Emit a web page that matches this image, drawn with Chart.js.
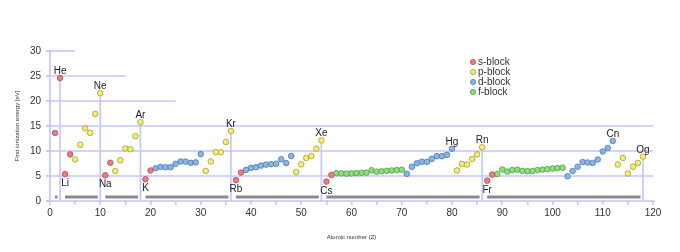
<!DOCTYPE html>
<html><head><meta charset="utf-8">
<script src="https://cdn.jsdelivr.net/npm/chart.js@4/dist/chart.umd.min.js"></script>
<style>html,body{margin:0;padding:0;background:#fff}canvas{display:block}</style>
</head><body>
<canvas id="c" width="680" height="252"></canvas>
<script>
// First ionization energy (eV) for Z = 1..118
const ionizationEnergy = [
  13.60,24.59,5.39,9.32,8.30,11.26,14.53,13.62,17.42,21.56,
  5.14,7.65,5.99,8.15,10.49,10.36,12.97,15.76,
  4.34,6.11,6.56,6.83,6.75,6.77,7.43,7.90,7.88,7.64,7.73,9.39,6.00,7.90,9.79,9.75,11.81,14.00,
  4.18,5.69,6.22,6.63,6.76,7.09,7.28,7.36,7.46,8.34,7.58,8.99,5.79,7.34,8.61,9.01,10.45,12.13,
  3.89,5.21,5.58,5.54,5.47,5.53,5.58,5.64,5.67,6.15,5.86,5.94,6.02,6.11,6.18,6.25,
  5.43,6.83,7.55,7.86,7.83,8.44,8.97,8.96,9.23,10.44,6.11,7.42,7.29,8.41,9.32,10.75,
  4.07,5.28,5.38,6.31,5.89,6.19,6.27,6.03,5.97,5.99,6.20,6.28,6.37,6.50,6.58,6.66,
  4.96,6.00,6.85,7.80,7.70,7.60,8.30,9.90,10.60,12.00,7.30,8.60,5.50,6.85,7.60,8.90
];
// block letter for each element Z = 1..118
const blockLetters = ("ss"+"ss"+"pppppp"+"ss"+"pppppp"+"ss"+"dddddddddd"+"pppppp"+"ss"+"dddddddddd"+"pppppp"+
  "ss"+"ffffffffffffff"+"dddddddddd"+"pppppp"+"ss"+"ffffffffffffff"+"dddddddddd"+"pppppp").split("");
const blockNames = ["s","p","d","f"];
const blockLabels = ["s-block","p-block","d-block","f-block"];
const blockFill = ["#f27a7a","#f4ef6c","#88b6e8","#8ce07c"];
const blockBorder = ["#a85454","#a29c3e","#5079a8","#4f9a48"];

// period bars (first and last Z of each period)
const periodStart = [1,3,11,19,37,55,87];
const periodEnd = [2,10,18,36,54,86,118];

// horizontal grid values and how far (in Z) each runs
const gridValues = [5,10,15,20,25,30];
const gridExtent = [120,120,120,25,15,5];

// element labels
const labelZ = [2,10,18,36,54,80,86,112,118, 3,11,19,37,55,87];
const labelText = ["He","Ne","Ar","Kr","Xe","Hg","Rn","Cn","Og", "Li","Na","K","Rb","Cs","Fr"];
const labelAbove = [true,true,true,true,true,true,true,true,true, false,false,false,false,false,false];

const xTickMax = 120, yTickMax = 30;

const datasets = blockNames.map((b, i) => ({
  label: blockLabels[i],
  data: ionizationEnergy.map((v, k) => ({x: k + 1, y: v})).filter((p, k) => blockLetters[k] === b),
  backgroundColor: blockFill[i],
  borderColor: blockBorder[i],
  borderWidth: 0.8,
  pointRadius: 2.8,
  pointHoverRadius: 2.8
}));

const GRID = "#c4c4ff";
const FONT = "'Liberation Sans', Arial, Helvetica, sans-serif";

const decor = {
  id: "decor",
  beforeDatasetsDraw(chart) {
    const {ctx} = chart;
    const xs = chart.scales.x, ys = chart.scales.y;
    ctx.save();
    ctx.lineWidth = 1.6;
    ctx.strokeStyle = GRID;
    // horizontal grid segments
    gridValues.forEach((v, i) => {
      const y = ys.getPixelForValue(v);
      ctx.beginPath();
      ctx.moveTo(xs.getPixelForValue(0) - 4, y);
      ctx.lineTo(xs.getPixelForValue(gridExtent[i]), y);
      ctx.stroke();
    });
    // period bars
    ctx.strokeStyle = "#8a8a8a";
    ctx.lineWidth = 3;
    periodStart.forEach((s, i) => {
      const y = ys.getPixelForValue(0.8);
      ctx.beginPath();
      ctx.moveTo(xs.getPixelForValue(s), y);
      ctx.lineTo(xs.getPixelForValue(periodEnd[i]), y);
      ctx.stroke();
    });
    // vertical lines at noble gases
    periodEnd.forEach((z) => {
      const x = xs.getPixelForValue(z);
      const y0 = ys.getPixelForValue(0);
      ctx.strokeStyle = "#ffffff";
      ctx.lineWidth = 5;
      ctx.beginPath();
      ctx.moveTo(x, y0 - 1);
      ctx.lineTo(x, ys.getPixelForValue(1.5));
      ctx.stroke();
      ctx.strokeStyle = GRID;
      ctx.lineWidth = 1.6;
      ctx.beginPath();
      ctx.moveTo(x, y0);
      ctx.lineTo(x, ys.getPixelForValue(ionizationEnergy[z - 1]));
      ctx.stroke();
    });
    // axis lines
    const ax = xs.getPixelForValue(0);
    const ay = ys.getPixelForValue(0);
    ctx.beginPath();
    ctx.moveTo(ax, ay);
    ctx.lineTo(ax, ys.getPixelForValue(yTickMax));
    ctx.moveTo(ax - 4, ay);
    ctx.lineTo(xs.getPixelForValue(xTickMax) + 2, ay);
    ctx.stroke();
    ctx.restore();
  },
  afterDatasetsDraw(chart) {
    const {ctx} = chart;
    const xs = chart.scales.x, ys = chart.scales.y;
    ctx.save();
    ctx.fillStyle = "#222";
    ctx.font = "10px " + FONT;
    ctx.textAlign = "center";
    ctx.textBaseline = "alphabetic";
    labelZ.forEach((z, i) => {
      const x = xs.getPixelForValue(z);
      const y = ys.getPixelForValue(ionizationEnergy[z - 1]);
      ctx.fillText(labelText[i], x, labelAbove[i] ? y - 4 : y + 12);
    });
    // legend
    ctx.textAlign = "left";
    ctx.textBaseline = "middle";
    chart.data.datasets.forEach((ds, i) => {
      const cy = 62 + i * 10;
      ctx.beginPath();
      ctx.arc(473, cy, 2.6, 0, Math.PI * 2);
      ctx.fillStyle = ds.backgroundColor;
      ctx.fill();
      ctx.lineWidth = 0.8;
      ctx.strokeStyle = ds.borderColor;
      ctx.stroke();
      ctx.fillStyle = "#333";
      ctx.fillText(ds.label, 478, cy + 0.5);
    });
    // axis titles
    ctx.font = "6px " + FONT;
    ctx.fillStyle = "#333";
    ctx.textAlign = "center";
    ctx.fillText("Atomic number (Z)", (chart.chartArea.left + chart.chartArea.right) / 2, 237);
    ctx.translate(17, (chart.chartArea.top + chart.chartArea.bottom) / 2);
    ctx.rotate(-Math.PI / 2);
    ctx.fillText("First ionization energy [eV]", 0, 0);
    ctx.restore();
  }
};

new Chart(document.getElementById("c"), {
  type: "scatter",
  data: {datasets},
  options: {
    responsive: false,
    animation: false,
    layout: {padding: {top: 51, right: 27, left: 0, bottom: 0}},
    plugins: {legend: {display: false}, tooltip: {enabled: false}},
    scales: {
      x: {
        type: "linear", min: 0, max: xTickMax,
        afterFit(s) { s.height = 51; },
        border: {display: false},
        grid: {display: true, drawOnChartArea: false, color: GRID, lineWidth: 1.6, tickLength: 4},
        ticks: {stepSize: 5, color: "#333", font: {size: 10, family: FONT}, padding: 2,
          maxRotation: 0, autoSkip: false,
          callback: (v) => (v % 10 === 0 ? String(v) : "")}
      },
      y: {
        type: "linear", min: 0, max: yTickMax,
        afterFit(s) { s.width = 50; },
        border: {display: false},
        grid: {display: true, drawOnChartArea: false, color: GRID, lineWidth: 1.6, tickLength: 4},
        ticks: {stepSize: 5, color: "#333", font: {size: 10, family: FONT}, padding: 5}
      }
    }
  },
  plugins: [decor]
});
</script>
</body></html>
